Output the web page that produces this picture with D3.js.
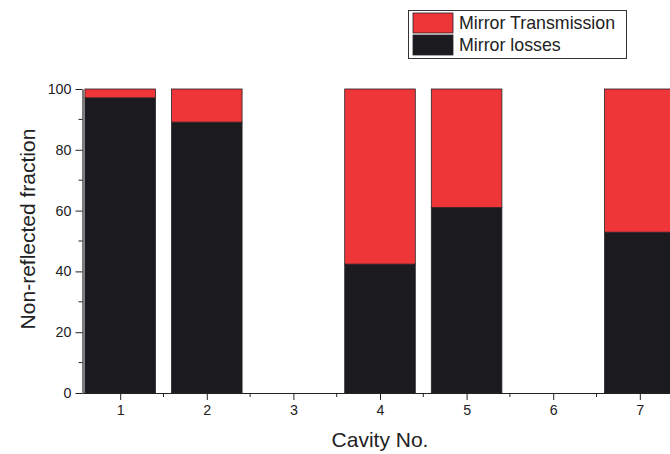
<!DOCTYPE html>
<html>
<head>
<meta charset="utf-8">
<script src="https://cdn.jsdelivr.net/npm/d3@7/dist/d3.min.js"></script>
<style>
  html, body { margin: 0; padding: 0; background: #fff; }
  svg { display: block; font-family: "Liberation Sans", Arial, sans-serif; }
</style>
</head>
<body>
<svg id="chart" width="670" height="454"></svg>
<script>
// Cavity numbers and the two stacked components (percent of non-reflected light)
const cavities = [1, 2, 3, 4, 5, 6, 7];
const mirrorLosses       = [97.1, 89.1, null, 42.4, 61.0, null, 52.9];
const mirrorTransmission = [2.9, 10.9, null, 57.6, 39.0, null, 47.1];
const yTicks = [0, 20, 40, 60, 80, 100];
const seriesNames = ["Mirror Transmission", "Mirror losses"];
const seriesColors = { "Mirror Transmission": "#ee3537", "Mirror losses": "#1b1a1f" };

const rows = cavities.map((c, i) => ({
  cavity: c,
  "Mirror losses": mirrorLosses[i],
  "Mirror Transmission": mirrorTransmission[i]
})).filter(d => d["Mirror losses"] != null);

const svg = d3.select("#chart");

const x = d3.scaleLinear().domain([0.565, 7.435]).range([82.5, 677.5]);
const y = d3.scaleLinear().domain([0, 100]).range([393, 89]);
const barW = 0.815;

const stack = d3.stack().keys(["Mirror losses", "Mirror Transmission"]);
const layers = stack(rows);

svg.append("g").selectAll("g")
  .data(layers)
  .join("g")
  .attr("fill", d => seriesColors[d.key])
  .selectAll("rect")
  .data(d => d)
  .join("rect")
  .attr("x", d => x(d.data.cavity - barW / 2))
  .attr("width", d => x(barW) - x(0))
  .attr("y", d => y(d[1]))
  .attr("height", d => y(d[0]) - y(d[1]))
  .attr("stroke", "#2a2226")
  .attr("stroke-width", 0.8);

// Axes: major ticks with labels, minor ticks in between
const axisColor = "#222";

const yAxis = svg.append("g").attr("transform", `translate(${x.range()[0]},0)`);
yAxis.call(d3.axisLeft(y).tickValues(yTicks).tickSize(7).tickPadding(4).tickSizeOuter(0));
yAxis.append("g").selectAll("line")
  .data(d3.range(10, 100, 20))
  .join("line")
  .attr("x1", 0).attr("x2", -4)
  .attr("y1", d => y(d)).attr("y2", d => y(d))
  .attr("stroke", axisColor);

const xAxis = svg.append("g").attr("transform", `translate(0,${y(0)})`);
xAxis.call(d3.axisBottom(x).tickValues(cavities).tickFormat(d3.format("d")).tickSize(7).tickPadding(5).tickSizeOuter(0));
xAxis.append("g").selectAll("line")
  .data(cavities.map(c => c + 0.5))
  .join("line")
  .attr("x1", d => x(d)).attr("x2", d => x(d))
  .attr("y1", 0).attr("y2", 4)
  .attr("stroke", axisColor);

[yAxis, xAxis].forEach(g => {
  g.selectAll("path.domain").attr("stroke", axisColor).attr("stroke-width", 1.2);
  g.selectAll(".tick line").attr("stroke", axisColor);
  g.selectAll(".tick text").attr("font-size", 14.3).attr("fill", "#222")
    .attr("font-family", "'Liberation Sans', Arial, sans-serif");
});

// Axis titles
svg.append("text")
  .attr("transform", "translate(35,229) rotate(-90)")
  .attr("text-anchor", "middle")
  .attr("font-size", 21)
  .attr("fill", "#222")
  .text("Non-reflected fraction");

svg.append("text")
  .attr("x", 380).attr("y", 447)
  .attr("text-anchor", "middle")
  .attr("font-size", 21)
  .attr("fill", "#222")
  .text("Cavity No.");

// Legend
const legend = svg.append("g");
legend.append("rect")
  .attr("x", 408.5).attr("y", 10.5).attr("width", 218).attr("height", 48)
  .attr("fill", "#fff").attr("stroke", "#333").attr("stroke-width", 1);
seriesNames.forEach((name, i) => {
  const row = legend.append("g").attr("transform", `translate(413,${13 + i * 22})`);
  row.append("rect")
    .attr("width", 40).attr("height", 20)
    .attr("fill", seriesColors[name]).attr("stroke", "#2a2226").attr("stroke-width", 0.8);
  row.append("text")
    .attr("x", 46).attr("y", 16)
    .attr("font-size", 17.8).attr("fill", "#222")
    .text(name);
});
</script>
</body>
</html>
